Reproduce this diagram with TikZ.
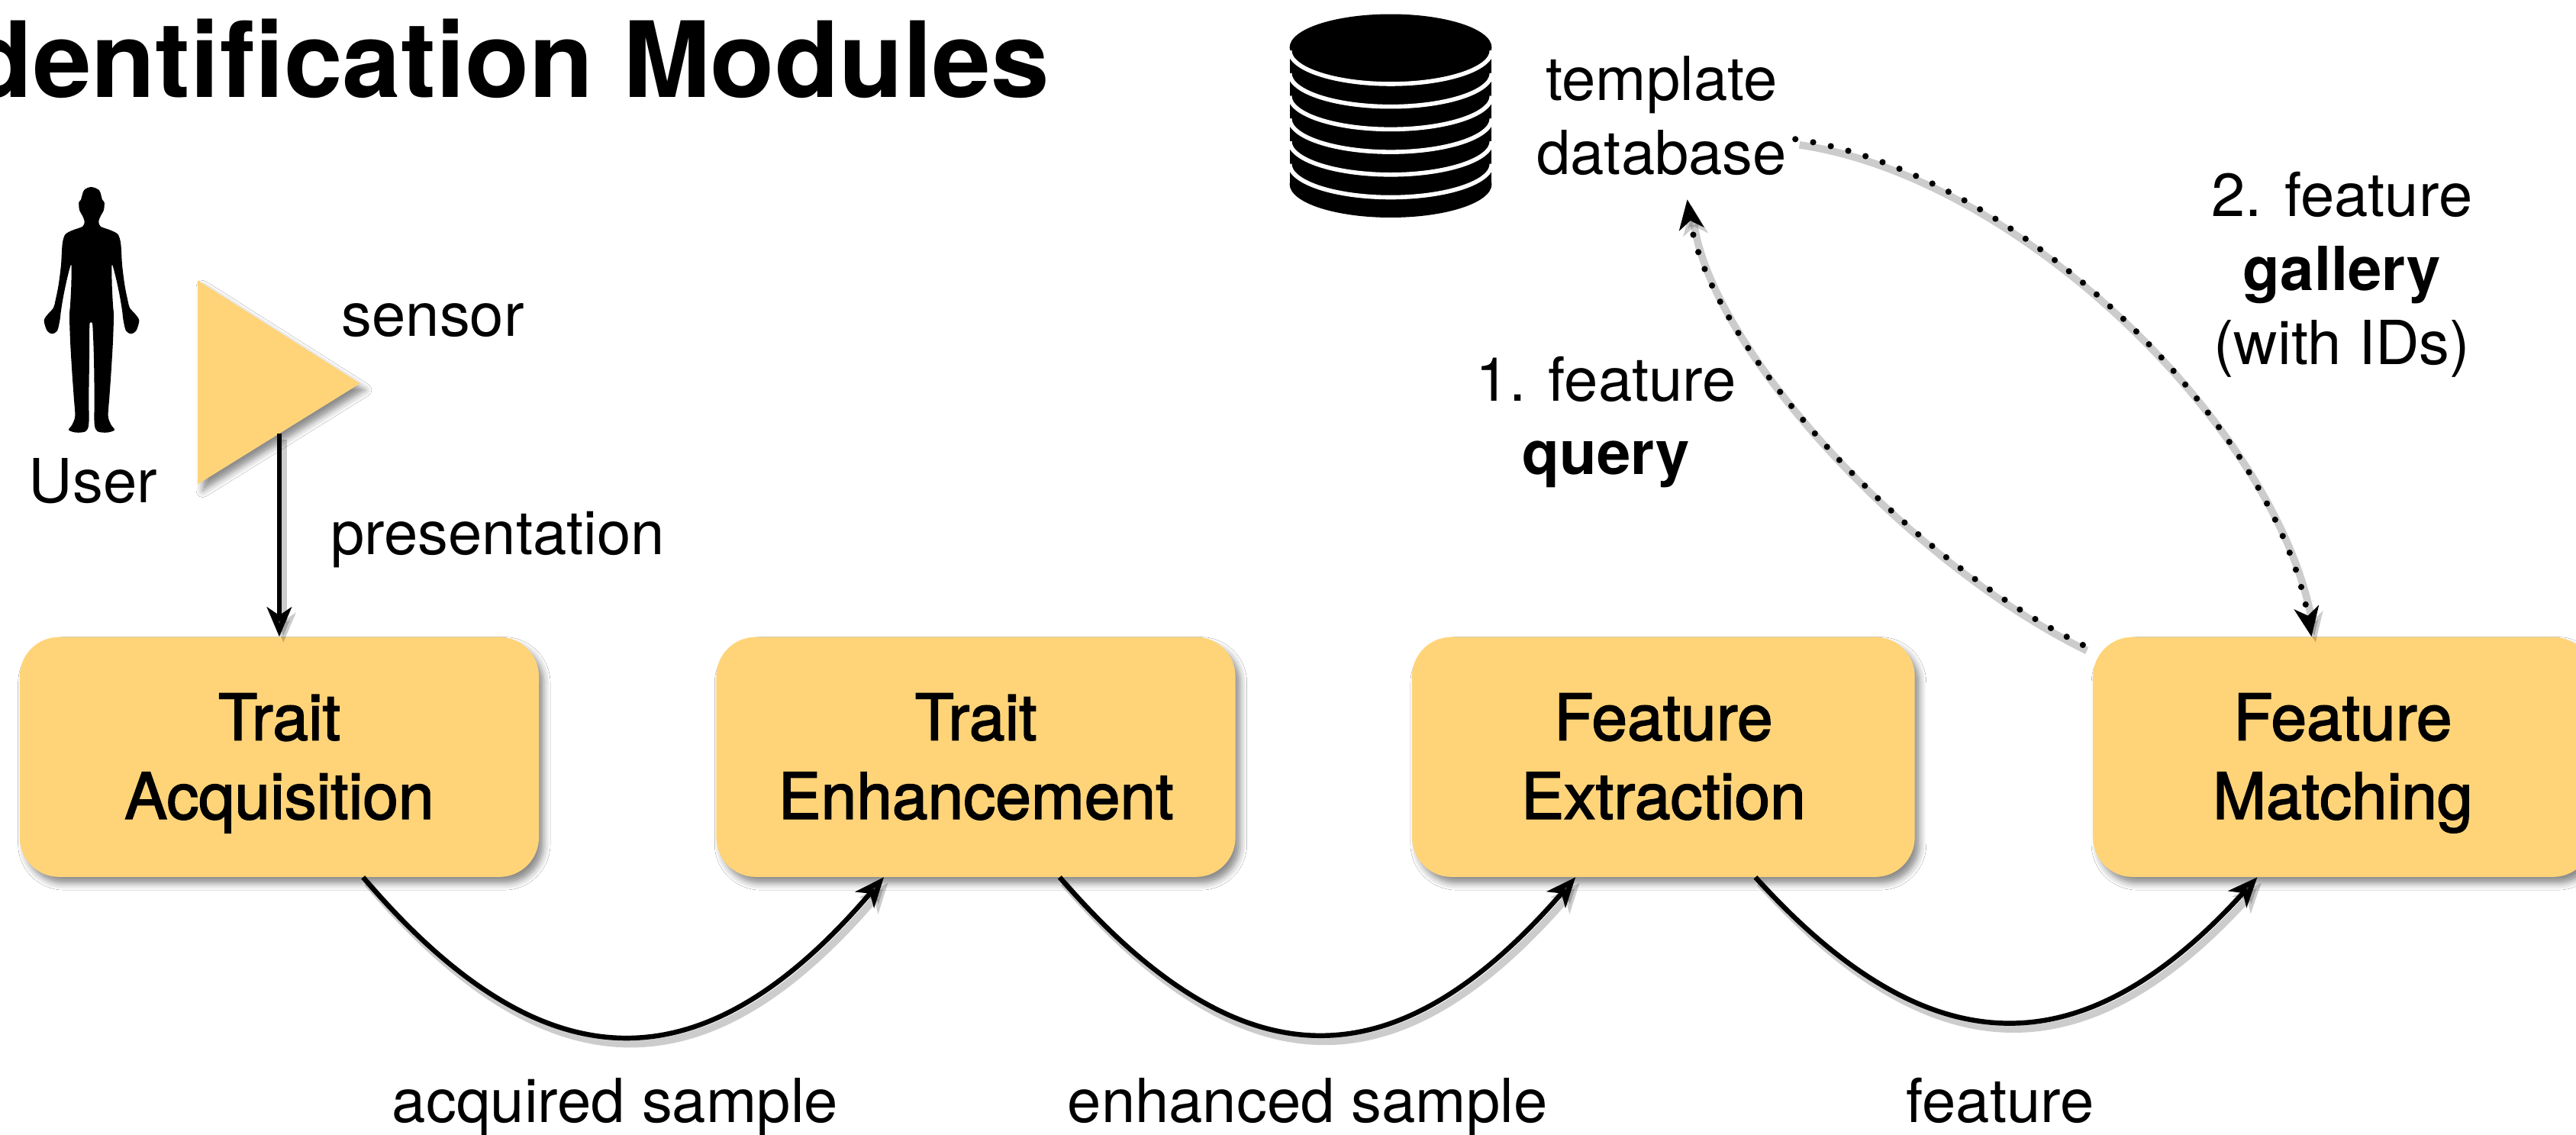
\documentclass[tikz,border=0pt]{standalone}
\usepackage{fontspec}
\setmainfont{TeX Gyre Heros}
\newfontfamily\medfont{TeX Gyre Heros}[FakeBold=2.0]
\usetikzlibrary{shadows.blur,arrows.meta,calc}
\definecolor{boxfill}{RGB}{255,212,121}
\newcommand\bxstrut{\rule[-10pt]{0pt}{47.4pt}}
\newcommand\lbstrut{\rule[-8pt]{0pt}{38pt}}
\begin{document}
\begin{tikzpicture}[x=1pt,y=-1pt,
  softshadow/.style={blur shadow={shadow xshift=3pt,shadow yshift=-4pt,shadow blur radius=4pt,shadow opacity=45}},
  box/.style={fill=boxfill, rounded corners=24pt, minimum height=146pt, inner sep=0pt, align=center,
    font=\medfont\fontsize{39}{48}\selectfont, softshadow},
  lbl/.style={inner sep=0pt, align=center, font=\fontsize{37}{45}\selectfont},
  lineshadow/.style={preaction={draw=black, opacity=0.2, line width=4.5pt, transform canvas={shift={(2.5pt,-3.5pt)}}}},
  flow/.style={line width=3pt, -{Stealth[length=18pt,width=15pt,inset=5pt]}, lineshadow},
  dots/.style={line width=3.8pt, line cap=round, dash pattern=on 0pt off 11pt,
    -{Stealth[length=18pt,width=15pt,inset=5pt]}, lineshadow},
]
\useasboundingbox (0,0) rectangle (1568,690.8);
\clip (0,0) rectangle (1568,690.8);
\fill[white] (0,0) rectangle (1568,690.8);

% title
\node[anchor=base east, inner sep=0pt, font=\bfseries\fontsize{64}{70}\selectfont] (title) at (639,59.2) {Identification Modules};

% user silhouette
\begin{scope}[shift={(13.94,102.21)}, scale=0.15487]
\fill[black] plot[smooth cycle, tension=0.5] coordinates {
 (268,75) (300,88) (312,125) (320,135) (318,165) (305,190) (298,210) (305,230)
 (345,245) (374,262) (385,300) (390,380) (400,460) (412,520) (420,550)
 (442,575) (457,600) (445,640) (425,652) (405,640) (395,600) (390,560)
 (380,500) (365,430) (350,380) (350,460) (354,540) (357,580)
 (354,680) (347,800) (340,900) (335,975) (347,1010) (360,1030) (330,1040) (293,1035) (281,1005)
 (281,900) (279,750) (274,620) (268,608) (262,620) (261,750) (259,900) (259,1005)
 (247,1035) (210,1040) (180,1030) (193,1010) (205,975) (200,900) (193,800) (186,680)
 (183,580) (186,540) (190,460) (190,380) (175,430) (160,500) (150,560)
 (145,600) (135,640) (115,652) (95,640) (83,600) (98,575) (120,550)
 (128,520) (140,460) (150,380) (155,300) (166,262) (195,245) (235,230)
 (242,210) (235,190) (222,165) (220,135) (228,125) (240,88)};
\end{scope}
\node[lbl, anchor=base] (userlbl) at (56.7,306) {User};

% sensor
\fill[boxfill, softshadow] (120.4,170.7) -- (219.2,233.4) -- (120.4,294.7) -- cycle;
\coordinate (sens) at (170,263.9);
\node[lbl, anchor=base] (sensorlbl) at (263.5,204.8) {sensor};
\node[lbl, anchor=base] (preslbl) at (303,337.4) {presentation};

% database
\fill[black] (846.5,28.9) ellipse [x radius=61.5, y radius=20.3];
\fill[black] (785,28.9) rectangle (908,112.1);
\fill[black] (846.5,112.1) ellipse [x radius=61.5, y radius=20.3];
\foreach \c in {30.8,44.6,58.4,72.2,86.0,99.8}{
  \draw[white, line width=2.6pt] (785,\c) .. controls (785,{\c+11.21}) and (812.53,{\c+20.3}) .. (846.5,{\c+20.3})
     .. controls (880.47,{\c+20.3}) and (908,{\c+11.21}) .. (908,\c);
}
\node[lbl] (dblabel) at (1011.5,72.7) {\lbstrut template\\database\lbstrut};

% modules
\node[box, minimum width=316pt] (b1) at (170,460.75) {\bxstrut Trait\\Acquisition\bxstrut};
\node[box, minimum width=316pt] (b2) at (594,460.75) {\bxstrut Trait\\Enhancement\bxstrut};
\node[box, minimum width=306pt] (b3) at (1012.5,460.75) {\bxstrut Feature\\Extraction\bxstrut};
\node[box, minimum width=304pt] (b4) at (1426,460.75) {\bxstrut Feature\\Matching\bxstrut};

% labels
\node[lbl] (querylbl) at (977.5,255.5) {\lbstrut 1. feature\\\textbf{query}\lbstrut};
\node[lbl] (gallerylbl) at (1425.5,165.8) {\lbstrut 2. feature\\\textbf{gallery}\\(with IDs)\lbstrut};
\node[lbl, anchor=base] (acqlbl) at (374.5,683.2) {acquired sample};
\node[lbl, anchor=base] (enhlbl) at (796,683.2) {enhanced sample};
\node[lbl, anchor=base] (featlbl) at (1217.5,683.2) {feature};

% connectors
\draw[flow] (sens) -- (b1.north);
\draw[flow] ([xshift=51pt]b1.south) .. controls +(110,129) and +(-110,129) .. ([xshift=-56pt]b2.south);
\draw[flow] ([xshift=51pt]b2.south) .. controls +(110,127) and +(-110,127) .. ([xshift=-53.5pt]b3.south);
\draw[flow] ([xshift=56pt]b3.south) .. controls +(106,117) and +(-106,117) .. ([xshift=-52pt]b4.south);
\draw[dots] ($(b4.north west)+(-6,5)$) .. controls (1160,340) and (1040,210) .. ([xshift=15.5pt,yshift=-7pt]dblabel.south);
\draw[dots] ($(dblabel.east)+(5,12)$) .. controls (1230,105) and (1385,260) .. ([xshift=-19pt]b4.north);
\end{tikzpicture}
\end{document}
